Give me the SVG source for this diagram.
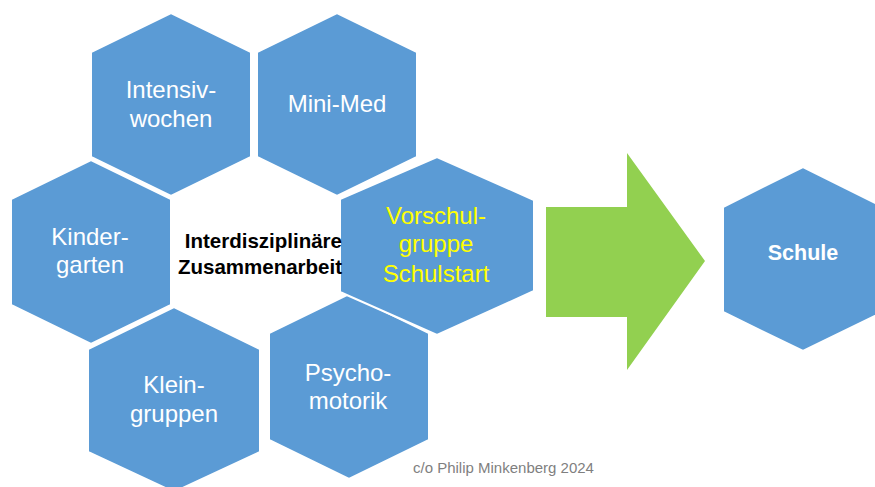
<svg xmlns="http://www.w3.org/2000/svg" width="875" height="487" viewBox="0 0 875 487">
<style>
.hex{fill:#5B9BD5;stroke:#FFFFFF;stroke-width:2;stroke-linejoin:miter}
.lbl{font-family:"Liberation Sans",Arial,sans-serif;font-size:24px;fill:#FFFFFF;text-anchor:middle}
.yel{fill:#FFFF00}
.bold{font-family:"Liberation Sans",Arial,sans-serif;font-weight:bold;text-anchor:middle}
.foot{font-family:"Liberation Sans",Arial,sans-serif;font-size:15px;fill:#7F7F7F}
</style>
<rect width="875" height="487" fill="#FFFFFF"/>
<g id="intensivwochen">
<polygon class="hex" points="171,13 251,52 251,157 171,196 91,157 91,52"/>
<text class="lbl" x="171" y="98">Intensiv-</text>
<text class="lbl" x="171" y="127">wochen</text>
</g>
<g id="minimed">
<polygon class="hex" points="337,13 417,52 417,157 337,196 257,157 257,52"/>
<text class="lbl" x="337" y="112">Mini-Med</text>
</g>
<g id="kindergarten">
<polygon class="hex" points="91,160 171,199 171,305 91,344 11,305 11,199"/>
<text class="lbl" x="90" y="245">Kinder-</text>
<text class="lbl" x="90" y="273">garten</text>
</g>
<g id="kleingruppen">
<polygon class="hex" points="174,307 260,349 260,452 174,492 88,452 88,349"/>
<text class="lbl" x="174" y="393">Klein-</text>
<text class="lbl" x="174" y="422">gruppen</text>
</g>
<g id="psychomotorik">
<polygon class="hex" points="349,294 429,333 429,440 349,479 269,440 269,333"/>
<text class="lbl" x="348" y="381">Psycho-</text>
<text class="lbl" x="348" y="409">motorik</text>
</g>
<g id="vorschulgruppe">
<polygon class="hex" points="437,157 534,200 534,291 437,335 340,292 340,199"/>
<text class="lbl yel" x="436" y="224">Vorschul-</text>
<text class="lbl yel" x="436" y="252">gruppe</text>
<text class="lbl yel" x="436" y="282">Schulstart</text>
</g>
<g id="interdisziplinaer">
<text class="bold" x="342" y="248" font-size="20.5" text-anchor="end" style="text-anchor:end">Interdisziplinäre</text>
<text class="bold" x="342" y="274" font-size="20.5" style="text-anchor:end">Zusammenarbeit</text>
</g>
<g id="connectors">
<polygon points="546,207 627,207 627,153 705,261 627,370 627,317 546,317" fill="#92D050"/>
</g>
<g id="schule">
<polygon class="hex" points="803,167 883,207 883,312 803,351 723,312 723,207"/>
<text class="bold" x="803" y="260" font-size="21.5" fill="#FFFFFF">Schule</text>
</g>
<text class="foot" x="413" y="473">c/o Philip Minkenberg 2024</text>
</svg>
